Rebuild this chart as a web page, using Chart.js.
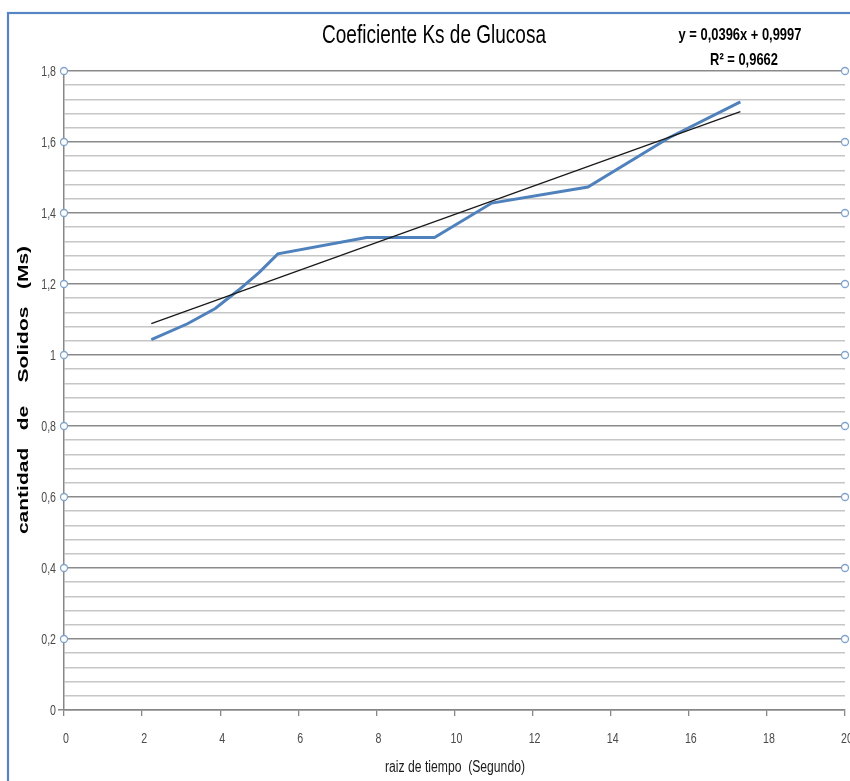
<!DOCTYPE html>
<html>
<head>
<meta charset="utf-8">
<script src="https://cdn.jsdelivr.net/npm/chart.js@4.4.0/dist/chart.umd.min.js"></script>
<style>
  html, body { margin: 0; padding: 0; background: #fff; overflow: hidden; }
  #wrap { position: absolute; left: 0; top: 0; width: 870px; height: 800px; }
</style>
</head>
<body>
<div id="wrap"><canvas id="chart" width="870" height="800"></canvas></div>
<script>
// raiz de tiempo (sqrt of seconds) vs. cantidad de solidos (Ms)
const raizTiempo = [2.236, 3.162, 3.873, 4.472, 5.0, 5.477, 7.746, 9.487, 10.954, 13.416, 15.492, 17.321];
const solidosMs  = [1.043, 1.088, 1.131, 1.183, 1.233, 1.285, 1.331, 1.331, 1.428, 1.473, 1.612, 1.713];

// linear trendline as printed on the chart
const trendSlope = 0.0396;
const trendIntercept = 0.9997;
const trendR2 = 0.9662;

const xTicks = [0, 2, 4, 6, 8, 10, 12, 14, 16, 18, 20];
const xTickLabels = ['0', '2', '4', '6', '8', '10', '12', '14', '16', '18', '20'];
const yMajorTicks = [0, 0.2, 0.4, 0.6, 0.8, 1, 1.2, 1.4, 1.6, 1.8];
const yTickLabels = ['0', '0,2', '0,4', '0,6', '0,8', '1', '1,2', '1,4', '1,6', '1,8'];
const yMinorStep = 0.04;
// little open circles sitting on the major gridlines at both ends
const markerY = [0.2, 0.4, 0.6, 0.8, 1, 1.2, 1.4, 1.6, 1.8];

const chartTitle = 'Coeficiente Ks de Glucosa';
const xTitle = 'raiz de tiempo  (Segundo)';
const yTitle = 'cantidad   de    Solidos   (Ms)';

const SANS = "'Liberation Sans', Arial, sans-serif";
const AXIS_GREY = '#878787';
const SQUEEZE = 0.76; // the original picture is squashed horizontally

function majorIndex(v){
  return yMajorTicks.findIndex(m => Math.abs(m - v) < 1e-6);
}
function fmt(n, d){ return n.toFixed(d).replace('.', ','); }

// text squeezed along x, anchored at (x, y)
function squeezed(c, text, x, y, font, align, baseline, color){
  c.save();
  c.font = font;
  c.fillStyle = color;
  c.textAlign = align;
  c.textBaseline = baseline;
  c.translate(x, y);
  c.scale(SQUEEZE, 1);
  c.fillText(text, 0, 0);
  c.restore();
}

const serie = raizTiempo.map((x, i) => ({ x, y: solidosMs[i] }));
const xFirst = raizTiempo[0], xLast = raizTiempo[raizTiempo.length - 1];
const trend = [xFirst, xLast].map(x => ({ x, y: trendSlope * x + trendIntercept }));
const markers = [];
markerY.forEach(y => { markers.push({ x: 0, y }); markers.push({ x: 20, y }); });

/* frame, titles, tick labels and equation drawn by hand */
const decor = {
  id: 'decor',
  beforeDraw(chart){
    const c = chart.ctx;
    c.save();
    c.strokeStyle = '#5585c2';
    c.lineWidth = 2.2;
    c.strokeRect(8, 13, 900, 900);
    c.restore();
  },
  afterDraw(chart){
    const c = chart.ctx;
    const xs = chart.scales.x, ys = chart.scales.y;

    squeezed(c, chartTitle, 434, 43, '25px ' + SANS, 'center', 'alphabetic', '#000');
    squeezed(c, `y = ${fmt(trendSlope, 4)}x + ${fmt(trendIntercept, 4)}`, 740, 40,
      'bold 17px ' + SANS, 'center', 'alphabetic', '#000');
    squeezed(c, `R² = ${fmt(trendR2, 4)}`, 744, 65, 'bold 17px ' + SANS, 'center', 'alphabetic', '#000');

    yMajorTicks.forEach((v, i) => {
      squeezed(c, yTickLabels[i], xs.left - 8, ys.getPixelForValue(v) + 1,
        '14px ' + SANS, 'right', 'middle', '#4a4a4a');
    });
    xTicks.forEach((v, i) => {
      squeezed(c, xTickLabels[i], xs.getPixelForValue(v) + 2, ys.bottom + 29,
        '14px ' + SANS, 'center', 'middle', '#4a4a4a');
    });
    squeezed(c, xTitle, 455, 768, '16px ' + SANS, 'center', 'middle', '#1a1a1a');

    // y axis title, stretched along its length like the original
    c.save();
    c.translate(24, 390);
    c.rotate(-Math.PI / 2);
    c.scale(1.5, 1);
    c.font = 'bold 14px ' + SANS;
    c.fillStyle = '#000';
    c.textAlign = 'center';
    c.textBaseline = 'middle';
    c.fillText(yTitle, 0, 0);
    c.restore();
  }
};

new Chart(document.getElementById('chart'), {
  type: 'scatter',
  data: {
    datasets: [
      {
        label: 'Ms',
        data: serie,
        showLine: true,
        borderColor: '#4f81bd',
        borderWidth: 3,
        pointRadius: 0,
        order: 2
      },
      {
        label: 'Lineal (Ms)',
        data: trend,
        showLine: true,
        borderColor: '#1a1a1a',
        borderWidth: 1.3,
        pointRadius: 0,
        order: 1
      },
      {
        label: 'marcas',
        data: markers,
        showLine: false,
        pointRadius: 3.5,
        pointBorderWidth: 1.3,
        pointBorderColor: '#7fa3cc',
        pointBackgroundColor: '#ffffff',
        clip: false,
        order: 0
      }
    ]
  },
  options: {
    responsive: false,
    devicePixelRatio: 1,
    animation: false,
    events: [],
    layout: { padding: { top: 71, left: 0, right: 25, bottom: 0 } },
    plugins: {
      legend: { display: false },
      tooltip: { enabled: false },
      title: { display: false }
    },
    scales: {
      x: {
        type: 'linear',
        min: 0,
        max: 20,
        afterBuildTicks: s => { s.ticks = xTicks.map(v => ({ value: v })); },
        afterFit: s => { s.height = 90; },
        ticks: { display: false, autoSkip: false },
        grid: { drawOnChartArea: false, drawTicks: true, tickLength: 6, color: AXIS_GREY, lineWidth: 1.3 },
        border: { display: true, color: AXIS_GREY, width: 1.5 }
      },
      y: {
        type: 'linear',
        min: 0,
        max: 1.8,
        afterBuildTicks: s => {
          const n = Math.round(1.8 / yMinorStep);
          const t = [];
          for (let i = 0; i <= n; i++) t.push({ value: Math.round(i * yMinorStep * 100) / 100 });
          s.ticks = t;
        },
        afterFit: s => { s.width = 64; },
        ticks: { display: false, autoSkip: false },
        grid: {
          drawTicks: true,
          tickLength: 6,
          lineWidth: 1.5,
          color: c => majorIndex(c.tick.value) >= 0 ? '#8a8a8a' : '#c6c6c6',
          tickColor: c => c.tick.value === 0 ? AXIS_GREY : 'rgba(0,0,0,0)'
        },
        border: { display: true, color: AXIS_GREY, width: 1.5 }
      }
    }
  },
  plugins: [decor]
});
</script>
</body>
</html>
